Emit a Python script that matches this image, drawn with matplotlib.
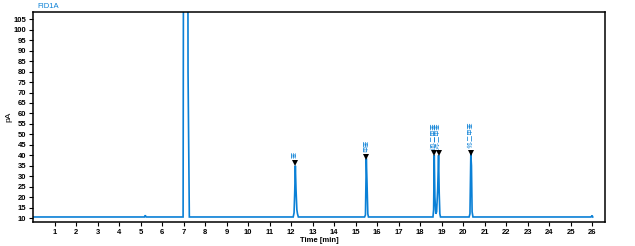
import matplotlib
matplotlib.use('Agg')
import matplotlib.pyplot as plt

plt.rcParams['font.family'] = ['Liberation Sans', 'Noto Sans CJK SC', 'DejaVu Sans']

# chromatogram trace (time in min, signal in pA)
time = [0.0, 5.18, 5.22, 5.26, 6.98, 7.02, 7.18, 7.21, 7.24, 7.27,
        12.1, 12.14, 12.17, 12.2, 12.23, 12.27, 12.3, 12.34,
        15.42, 15.46, 15.5, 15.53, 15.57, 15.6,
        18.6, 18.63, 18.66, 18.69, 18.73, 18.77, 18.82, 18.86, 18.89, 18.92, 18.95,
        20.28, 20.32, 20.36, 20.39, 20.42, 20.46,
        25.95, 26.0, 26.03]
signal = [10.5, 10.5, 11.3, 10.5, 10.5, 300, 300, 80, 45, 10.5,
          10.5, 12.5, 22, 35, 24, 14, 12, 10.5,
          10.5, 11.5, 38.5, 28, 12, 10.5,
          10.5, 14, 40, 20, 12, 13, 24, 40, 22, 12, 10.5,
          10.5, 12, 40.5, 35, 13, 10.5,
          10.5, 11.2, 10.5]

# identified peaks
peak_rt = [12.2, 15.5, 18.66, 18.86, 20.36]
peak_top = [36.5, 39.3, 41.0, 41.0, 41.3]
peak_names = ['苯', '甲苯', '间-二甲苯', '对-二甲苯', '邻-二甲苯']

x_ticks = list(range(1, 27))
y_ticks = list(range(10, 110, 5))

blue = '#0a80d6'

fig = plt.figure(figsize=(6.35, 2.46), dpi=100)
ax = fig.add_axes([33 / 635, 1 - 222 / 246, 572 / 635, 210 / 246])

ax.plot(time, signal, color=blue, lw=1.2, solid_joinstyle='miter')

for rt, top, name in zip(peak_rt, peak_top, peak_names):
    ax.plot(rt, top, marker='v', color='black', ms=4.5, mew=0)
    ax.text(rt, top + 2.2, name, rotation=90, ha='center', va='bottom',
            fontsize=4.4, color=blue)

ax.set_xlim(0, 26.6)
ax.set_ylim(8.1, 108.5)
ax.set_xticks(x_ticks)
ax.set_yticks(y_ticks)
ax.tick_params(labelsize=5.5, length=3, width=0.8, pad=2)
for lab in ax.get_xticklabels() + ax.get_yticklabels():
    lab.set_fontweight('bold')
for s in ax.spines.values():
    s.set_linewidth(1.1)

ax.set_xlabel('Time [min]', fontsize=5.5, labelpad=1, fontweight='bold')
ax.set_ylabel('pA', fontsize=6, labelpad=1)
fig.text(37 / 635, 1 - 6 / 246, 'FID1A', fontsize=5.5, color=blue,
         va='center', ha='left')

fig.savefig('out.png', dpi=100)
